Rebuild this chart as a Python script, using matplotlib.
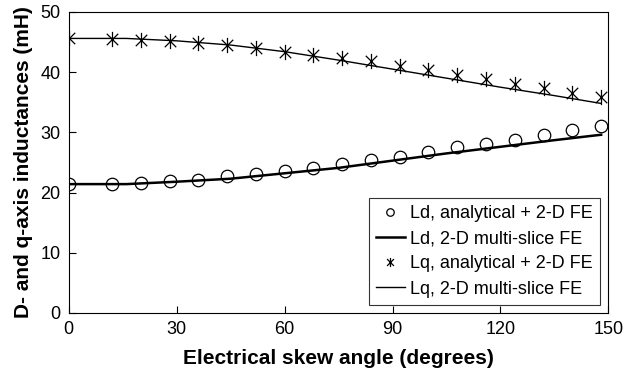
import numpy as np
import matplotlib
matplotlib.use("Agg")
import matplotlib.pyplot as plt
from matplotlib.path import Path

# skew angles where the analytical + 2-D FE points were computed
skew_pts = [0, 12, 20, 28, 36, 44, 52, 60, 68, 76, 84, 92, 100, 108, 116, 124, 132, 140, 148]
ld_analytical = [21.4, 21.4, 21.6, 21.9, 22.1, 22.7, 23.0, 23.5, 24.0, 24.7, 25.4, 25.9, 26.7,
                 27.5, 28.1, 28.8, 29.6, 30.4, 31.0]
lq_analytical = [45.6, 45.5, 45.4, 45.1, 44.8, 44.5, 44.0, 43.4, 42.9, 42.3, 41.8, 41.1, 40.4,
                 39.6, 38.9, 38.1, 37.3, 36.6, 35.8]

# multi-slice FE curves
skew_fe = [0, 16, 30, 45, 60, 75, 90, 105, 120, 135, 148]
ld_fe = [21.4, 21.4, 21.8, 22.3, 23.2, 24.1, 25.3, 26.5, 27.6, 28.7, 29.6]
lq_fe = [45.6, 45.6, 45.2, 44.5, 43.4, 42.0, 40.5, 39.0, 37.5, 36.1, 34.8]

# asterisk marker: an x with a vertical stroke through it
star = Path([(-0.75, -0.75), (0.75, 0.75), (-0.75, 0.75), (0.75, -0.75), (0, -1), (0, 1)],
            [Path.MOVETO, Path.LINETO, Path.MOVETO, Path.LINETO, Path.MOVETO, Path.LINETO])

plt.rcParams["font.family"] = ["Liberation Sans", "DejaVu Sans"]

fig = plt.figure(figsize=(6.37, 3.73), dpi=100)
ax = fig.add_axes([0.108, 0.161, 0.847, 0.807])

ax.plot(skew_pts, ld_analytical, linestyle="none", marker="o", markersize=9,
        markerfacecolor="none", markeredgecolor="black", markeredgewidth=0.9,
        label="Ld, analytical + 2-D FE")
ax.plot(skew_fe, ld_fe, color="black", linewidth=1.8, label="Ld, 2-D multi-slice FE")
ax.plot(skew_pts, lq_analytical, linestyle="none", marker=star, markersize=11,
        color="black", markeredgewidth=0.9, label="Lq, analytical + 2-D FE")
ax.plot(skew_fe, lq_fe, color="black", linewidth=1.0, label="Lq, 2-D multi-slice FE")

ax.set_xlim(0, 150)
ax.set_ylim(0, 50)
ax.set_xticks(np.arange(0, 151, 30))
ax.set_yticks(np.arange(0, 51, 10))
ax.tick_params(direction="in", labelsize=13, length=5, width=0.8, pad=6,
               top=False, right=False)
for s in ax.spines.values():
    s.set_linewidth(0.8)

ax.set_xlabel("Electrical skew angle (degrees)", fontsize=15, fontweight="bold", labelpad=8)
ax.set_ylabel("D- and q-axis inductances (mH)", fontsize=15, fontweight="bold", labelpad=5)

leg = ax.legend(loc="lower right", fontsize=13, frameon=True, fancybox=False,
                edgecolor="black", markerscale=0.6, handlelength=1.6, handletextpad=0.3,
                borderaxespad=0.45, labelspacing=0.45)
leg.get_frame().set_linewidth(0.8)

fig.savefig("out.png", dpi=100)
